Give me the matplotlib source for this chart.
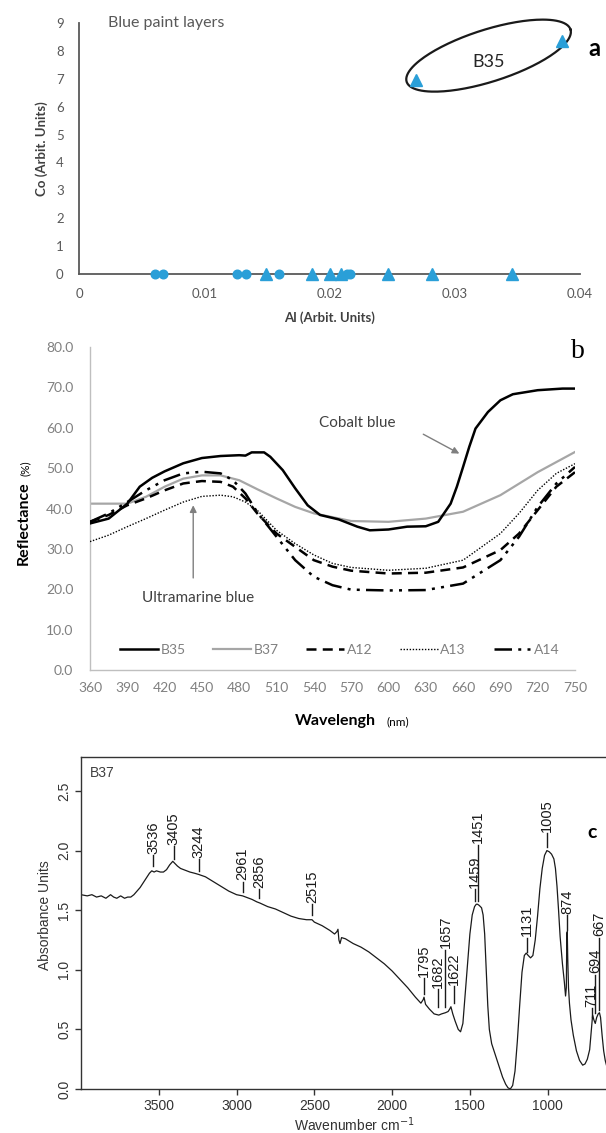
#!/usr/bin/env python3

import numpy as np
import matplotlib
matplotlib.use("Agg")
import matplotlib.pyplot as plt

W, H = 606, 1133

# --- (a) Co vs Al scatter -------------------------------------------------
al_circles = [0.0061, 0.0067, 0.0126, 0.0133, 0.0160, 0.0214, 0.0216]
co_circles = [0, 0, 0, 0, 0, 0, 0]
al_triangles = [0.0149, 0.0186, 0.0200, 0.0209, 0.0247, 0.0282, 0.0346, 0.0269, 0.0386]
co_triangles = [0, 0, 0, 0, 0, 0, 0, 6.96, 8.35]

# --- (b) reflectance spectra ----------------------------------------------
wl_b35 = [360, 375, 390, 400, 410, 420, 435, 450, 465, 480, 485, 490, 500, 505, 515,
          525, 535, 545, 560, 575, 585, 600, 615, 630, 640, 650, 655, 660, 665, 670,
          680, 690, 700, 720, 740, 750]
r_b35 = [36.3, 37.5, 41.2, 45.4, 47.6, 49.2, 51.2, 52.5, 53.0, 53.2, 53.1, 53.9, 53.9,
         52.8, 49.5, 45.0, 40.8, 38.4, 37.3, 35.5, 34.6, 34.8, 35.5, 35.6, 36.7, 41.2,
         45.4, 50.3, 55.3, 59.8, 63.9, 66.8, 68.3, 69.3, 69.7, 69.7]

wl_b37 = [360, 375, 390, 405, 420, 435, 450, 465, 480, 495, 510, 525, 540, 570, 600,
          630, 660, 690, 720, 750]
r_b37 = [41.2, 41.2, 41.2, 42.9, 45.4, 47.4, 48.2, 48.2, 47.0, 44.7, 42.5, 40.4, 38.8,
         36.9, 36.7, 37.5, 39.2, 43.3, 49.0, 54.0]

wl_a = [360, 375, 390, 405, 420, 435, 450, 465, 475, 485, 495, 510, 525, 540, 555,
        570, 600, 630, 660, 690, 705, 720, 735, 750]
r_a12 = [36.7, 38.4, 40.8, 42.5, 44.5, 46.2, 46.8, 46.6, 45.4, 42.5, 38.6, 33.8, 30.5,
         27.2, 25.6, 24.6, 23.9, 24.1, 25.4, 29.7, 33.8, 39.6, 45.4, 49.0]
r_a13 = [31.8, 33.4, 35.5, 37.5, 39.6, 41.6, 43.0, 43.3, 42.9, 41.6, 39.4, 34.6, 31.3,
         28.5, 26.4, 25.4, 24.7, 25.2, 27.2, 33.8, 38.8, 44.5, 48.7, 51.1]
r_a14 = [36.7, 38.8, 41.6, 44.5, 47.0, 48.7, 49.1, 48.7, 47.0, 43.7, 38.8, 33.0, 27.2,
         23.1, 21.0, 19.9, 19.7, 19.8, 21.4, 27.2, 33.0, 40.4, 46.2, 50.3]

# --- (c) FTIR spectrum of B37 ---------------------------------------------
wavenumber = [4000, 3960, 3930, 3900, 3870, 3840, 3810, 3790, 3770, 3745, 3720, 3700,
              3680, 3660, 3640, 3620, 3600, 3580, 3560, 3545, 3530, 3515, 3490, 3470,
              3450, 3430, 3410, 3395, 3380, 3360, 3340, 3300, 3270, 3244, 3200, 3150,
              3100, 3050, 3000, 2961, 2940, 2900, 2870, 2850, 2800, 2750, 2700, 2650,
              2600, 2550, 2515, 2500, 2450, 2400, 2370, 2355, 2348, 2342, 2335, 2325,
              2300, 2250, 2200, 2150, 2100, 2050, 2000, 1950, 1900, 1850, 1815, 1800,
              1795, 1785, 1760, 1730, 1700, 1682, 1657, 1640, 1630, 1622, 1610, 1595,
              1575, 1560, 1545, 1530, 1515, 1500, 1485, 1470, 1459, 1451, 1440, 1425,
              1415, 1405, 1395, 1385, 1375, 1360, 1345, 1330, 1310, 1290, 1270, 1255,
              1240, 1225, 1210, 1195, 1180, 1165, 1150, 1138, 1125, 1110, 1095, 1080,
              1065, 1050, 1035, 1020, 1005, 990, 975, 960, 950, 940, 930, 920, 905,
              893, 885, 880, 877, 874, 871, 866, 860, 850, 835, 815, 795, 775, 760,
              745, 730, 720, 711, 703, 694, 685, 675, 667, 660, 650, 640, 630, 620]
absorbance = [1.63, 1.62, 1.63, 1.61, 1.62, 1.60, 1.63, 1.61, 1.60, 1.62, 1.60, 1.61,
              1.61, 1.63, 1.66, 1.69, 1.73, 1.77, 1.81, 1.83, 1.82, 1.83, 1.82, 1.82,
              1.84, 1.88, 1.91, 1.89, 1.87, 1.85, 1.84, 1.82, 1.81, 1.80, 1.78, 1.74,
              1.70, 1.66, 1.63, 1.62, 1.61, 1.59, 1.57, 1.56, 1.53, 1.51, 1.48, 1.45,
              1.43, 1.42, 1.42, 1.40, 1.37, 1.33, 1.30, 1.32, 1.34, 1.25, 1.22, 1.27,
              1.26, 1.22, 1.19, 1.15, 1.10, 1.05, 0.99, 0.92, 0.85, 0.77, 0.72, 0.75,
              0.77, 0.71, 0.67, 0.63, 0.62, 0.63, 0.64, 0.65, 0.67, 0.69, 0.63, 0.57,
              0.50, 0.48, 0.55, 0.80, 1.05, 1.30, 1.46, 1.53, 1.55, 1.55, 1.54, 1.52,
              1.46, 1.30, 1.00, 0.70, 0.50, 0.38, 0.32, 0.26, 0.18, 0.10, 0.04, 0.01,
              0.00, 0.03, 0.15, 0.40, 0.70, 0.98, 1.12, 1.14, 1.12, 1.10, 1.12, 1.25,
              1.45, 1.68, 1.85, 1.96, 2.00, 1.99, 1.97, 1.93, 1.85, 1.70, 1.50, 1.28,
              1.05, 0.90, 0.78, 0.85, 1.30, 1.32, 1.10, 0.85, 0.72, 0.58, 0.45, 0.32,
              0.24, 0.20, 0.21, 0.25, 0.33, 0.48, 0.62, 0.58, 0.55, 0.60, 0.63, 0.64,
              0.60, 0.45, 0.32, 0.24, 0.19]

# peak labels: wavenumber, bottom and top of the marker line
peak_labels = [3536, 3405, 3244, 2961, 2856, 2515, 1795, 1682, 1657, 1622,
               1459, 1451, 1131, 1005, 874, 711, 694, 667]
peak_y0 = [1.87, 1.93, 1.83, 1.65, 1.60, 1.46, 0.80, 0.69, 0.69, 0.72,
           1.58, 1.58, 1.15, 2.03, 1.33, 0.60, 0.64, 0.66]
peak_y1 = [1.96, 2.04, 1.93, 1.74, 1.68, 1.55, 0.93, 0.84, 1.17, 0.86,
           1.68, 2.05, 1.27, 2.15, 1.46, 0.68, 0.96, 1.27]
# crowded labels are nudged sideways a little
peak_shift = {1682: 22, 1622: -22, 1459: 8, 711: 6}


def frac(x, y):
    return x / W, 1 - y / H


def axes_at(fig, left, top, right, bottom):
    return fig.add_axes([left / W, 1 - bottom / H, (right - left) / W, (bottom - top) / H])


fig = plt.figure(figsize=(W / 100, H / 100), dpi=100)

# ---------------------------------------------------------------- panel a
ax = axes_at(fig, 79, 23, 580, 274)
blue = "#2a9fd8"
ax.plot(al_circles, co_circles, "o", color=blue, ms=6.2, clip_on=False, zorder=3)
ax.plot(al_triangles, co_triangles, "^", color=blue, ms=8, clip_on=False, zorder=3)
ax.set_xlim(0, 0.04)
ax.set_ylim(0, 9)
ax.set_xticks([0, 0.01, 0.02, 0.03, 0.04])
ax.set_xticklabels(["0", "0.01", "0.02", "0.03", "0.04"])
ax.set_yticks(range(10))
for s in ["top", "right"]:
    ax.spines[s].set_visible(False)
for s in ["left", "bottom"]:
    ax.spines[s].set_color("#595959")
    ax.spines[s].set_linewidth(1.3)
ax.tick_params(length=0, labelsize=9.5, labelcolor="#595959", pad=11)
ax.tick_params(axis="x", pad=10)
for lab in ax.get_xticklabels() + ax.get_yticklabels():
    lab.set_family("Lato")
ax.set_xlabel("Al (Arbit. Units)", fontsize=9.5, fontweight="bold", family="Lato",
              color="#404040", labelpad=8)
ax.set_ylabel("Co (Arbit. Units)", fontsize=9.5, fontweight="bold", family="Lato",
              color="#404040", labelpad=6)
ax.text(0.0023, 9.0, "Blue paint layers", fontsize=11.5, family="Lato", color="#595959",
        va="center")

# ellipse around B35, drawn in pixel space so the tilt stays true
px_x = 501 / 0.04
px_y = 251 / 9
cx, cy = 0.0327, 7.83
a_px, b_px, tilt = 86, 26, np.radians(17.7)
t = np.linspace(0, 2 * np.pi, 200)
dx = a_px * np.cos(t) * np.cos(tilt) - b_px * np.sin(t) * np.sin(tilt)
dy = a_px * np.cos(t) * np.sin(tilt) + b_px * np.sin(t) * np.cos(tilt)
ax.plot(cx + dx / px_x, cy + dy / px_y, color="#1a1a1a", lw=1.6, clip_on=False)
ax.text(0.0327, 7.6, "B35", fontsize=13, family="Lato", color="#262626",
        ha="center", va="center")
fig.text(*frac(594, 48), "a", fontsize=17, fontweight="bold", family="Lato",
         ha="center", va="center")

# ---------------------------------------------------------------- panel b
ax = axes_at(fig, 90, 347, 575, 670)
ax.plot(wl_b35, r_b35, color="black", lw=1.8, label="B35", zorder=5)
ax.plot(wl_b37, r_b37, color="#a6a6a6", lw=1.6, label="B37", zorder=2)
ax.plot(wl_a, r_a12, color="black", lw=1.8, ls=(0, (4, 2.5)), label="A12", zorder=3)
ax.plot(wl_a, r_a13, color="black", lw=1.0, ls=(0, (1, 1.2)), label="A13", zorder=3)
ax.plot(wl_a, r_a14, color="black", lw=1.8, ls=(0, (7, 2.5, 1.2, 2.5, 1.2, 2.5)),
        label="A14", zorder=4)
ax.set_xlim(360, 750)
ax.set_ylim(0, 80)
ax.set_xticks(range(360, 751, 30))
ax.set_yticks(range(0, 81, 10))
ax.set_yticklabels([f"{v:.1f}" for v in range(0, 81, 10)])
for s in ["top", "right"]:
    ax.spines[s].set_visible(False)
for s in ["left", "bottom"]:
    ax.spines[s].set_color("#bfbfbf")
    ax.spines[s].set_linewidth(1.0)
ax.tick_params(length=0, labelsize=10, labelcolor="#808080")
ax.tick_params(axis="y", pad=12)
ax.tick_params(axis="x", pad=9)
for lab in ax.get_xticklabels() + ax.get_yticklabels():
    lab.set_family("Lato")

leg = ax.legend(loc="center", bbox_to_anchor=(0.515, 0.062), ncol=5, frameon=False,
                handlelength=2.7, handletextpad=0.2, columnspacing=2.0,
                prop={"family": "Lato", "size": 10})
for txt in leg.get_texts():
    txt.set_color("#808080")

ax.text(575, 61.2, "Cobalt blue", fontsize=11, family="Lato", color="#404040",
        ha="center", va="center")
ax.annotate("", xy=(657, 53.6), xytext=(628, 58.4),
            arrowprops=dict(arrowstyle="-|>", color="#7f7f7f", lw=1.0,
                            mutation_scale=10, shrinkA=0, shrinkB=0))
ax.text(447, 17.8, "Ultramarine blue", fontsize=11, family="Lato", color="#404040",
        ha="center", va="center")
ax.annotate("", xy=(443, 40.8), xytext=(443, 22.8),
            arrowprops=dict(arrowstyle="-|>", color="#7f7f7f", lw=1.0,
                            mutation_scale=10, shrinkA=0, shrinkB=0))

# y label: bold word followed by a smaller unit, reading bottom to top
fig.text(*frac(31, 565), "Reflectance", rotation=90, fontsize=11.5, fontweight="bold",
         family="Lato", ha="left", va="bottom", rotation_mode="anchor")
fig.text(*frac(31, 476), "(%)", rotation=90, fontsize=8.5, family="Lato",
         ha="left", va="bottom", rotation_mode="anchor")
fig.text(*frac(295, 725), "Wavelengh", fontsize=11.5, fontweight="bold", family="Lato",
         ha="left", va="baseline")
fig.text(*frac(386, 725), "(nm)", fontsize=8.5, family="Lato", ha="left", va="baseline")
fig.text(*frac(578, 352), "b", fontsize=20, family="Liberation Serif",
         ha="center", va="center")

# ---------------------------------------------------------------- panel c
ax = axes_at(fig, 81, 757, 606, 1089)
ax.plot(wavenumber, absorbance, color="#1a1a1a", lw=0.9)
ax.set_xlim(4000, 625)
ax.set_ylim(0, 2.785)
ax.set_xticks([3500, 3000, 2500, 2000, 1500, 1000])
ax.set_yticks([0, 0.5, 1.0, 1.5, 2.0, 2.5])
ax.set_yticklabels(["0.0", "0.5", "1.0", "1.5", "2.0", "2.5"])
ax.spines["right"].set_visible(False)
for s in ["left", "bottom", "top"]:
    ax.spines[s].set_color("#333333")
    ax.spines[s].set_linewidth(1.0)
ax.tick_params(direction="out", length=4, width=1, color="#333333",
               labelsize=10, labelcolor="#333333", pad=3)
for lab in ax.get_xticklabels() + ax.get_yticklabels():
    lab.set_family("Liberation Sans")
for lab in ax.get_yticklabels():
    lab.set_rotation(90)
    lab.set_va("center")

for wn, y0, y1 in zip(peak_labels, peak_y0, peak_y1):
    tx = wn + peak_shift.get(wn, 0)
    ax.plot([tx, tx], [y0, y1], color="#1a1a1a", lw=1.0)
    ax.text(tx, y1 + 0.01, str(wn), rotation=90, fontsize=10.5, family="Liberation Sans",
            color="#1a1a1a", ha="center", va="bottom")

ax.text(3940, 2.65, "B37", fontsize=10, family="Liberation Sans", color="#404040",
        va="center")
fig.text(*frac(592, 832), "c", fontsize=14, fontweight="bold", family="Lato",
         ha="center", va="center")
fig.text(*frac(45, 915), "Absorbance Units", rotation=90, fontsize=10,
         family="Liberation Sans", color="#333333", ha="center", va="center")
fig.text(*frac(354, 1125), "Wavenumber cm$^{-1}$", fontsize=10,
         family="Liberation Sans", color="#333333", ha="center", va="center")

fig.savefig("out.png", dpi=100)
